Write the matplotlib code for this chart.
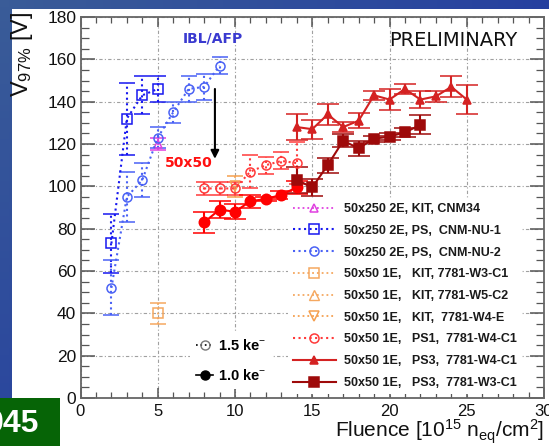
import numpy as np
import matplotlib
matplotlib.use("Agg")
import matplotlib.pyplot as plt
from matplotlib.patches import Rectangle
from matplotlib.lines import Line2D

plt.rcParams['font.family'] = ['Liberation Sans', 'DejaVu Sans']
plt.rcParams['mathtext.fontset'] = 'custom'
plt.rcParams['mathtext.rm'] = 'Liberation Sans'
plt.rcParams['mathtext.it'] = 'Liberation Sans:italic'
plt.rcParams['mathtext.bf'] = 'Liberation Sans:bold'

# ---------------- data ----------------
cnm34_x = [5]
cnm34_y = [120]
cnm34_e = [3]

nu1_x = [2, 3, 4, 5]
nu1_y = [73, 132, 143, 146]
nu1_e = [14, 17, 9, 6]

nu2_x = [2, 3, 4, 5, 6, 7, 8, 9]
nu2_y = [52, 95, 103, 123, 135, 146, 147, 157]
nu2_e = [13, 12, 8, 5, 5, 6, 6, 4]

kit_w3c1_x = [5]
kit_w3c1_y = [40]
kit_w3c1_e = [5]

kit_w5c2_x = []
kit_w5c2_y = []

kit_w4e_x = [10]
kit_w4e_y = [100]
kit_w4e_e = [5]

ps1_x = [8, 9, 10, 11, 12, 13, 14]
ps1_y = [99, 99, 99, 107, 110, 112, 111]
ps1_e = [3, 3, 3, 8, 4, 4, 10]

ps1_1ke_x = [8, 9, 10, 11, 12, 13, 14]
ps1_1ke_y = [83, 89, 88, 93, 94, 96, 99.5]
ps1_1ke_e = [5, 4, 3.5, 3, 1, 2, 3]

ps3_w4c1_x = [14, 15, 16, 17, 18, 19, 20, 21, 22, 23, 24, 25]
ps3_w4c1_y = [128, 127, 134, 128, 131, 143, 141, 146, 141, 142.5, 147, 141]
ps3_w4c1_e = [6, 4.5, 5, 2.5, 3.5, 2, 5, 2.5, 4, 2.5, 5, 7]

ps3_w3c1_x = [14, 15, 16, 17, 18, 19, 20, 21, 22]
ps3_w3c1_y = [103, 99.5, 110, 121.5, 118, 122.5, 123.5, 125.5, 129]
ps3_w3c1_e = [6, 4, 3.5, 3, 3.5, 1.5, 1.5, 2, 4.5]

legend_labels = [
    "50x250 2E, KIT, CNM34",
    "50x250 2E, PS,  CNM-NU-1",
    "50x250 2E, PS,  CNM-NU-2",
    "50x50 1E,   KIT, 7781-W3-C1",
    "50x50 1E,   KIT, 7781-W5-C2",
    "50x50 1E,   KIT,  7781-W4-E",
    "50x50 1E,   PS1,  7781-W4-C1",
    "50x50 1E,   PS3,  7781-W4-C1",
    "50x50 1E,   PS3,  7781-W3-C1",
]
ke_labels = ["1.5 ke$^{-}$", "1.0 ke$^{-}$"]

x_ticks = [0, 5, 10, 15, 20, 25, 30]
y_ticks = [0, 20, 40, 60, 80, 100, 120, 140, 160, 180]

# ---------------- figure ----------------
W, H = 549, 446
fig = plt.figure(figsize=(W / 100, H / 100), dpi=100)

# slide background
bg = fig.add_axes([0, 0, 1, 1])
bg.set_xlim(0, 1)
bg.set_ylim(0, 1)
bg.axis('off')
gx, gy = np.meshgrid(np.linspace(0, 1, 64), np.linspace(0, 1, 64))
t = np.clip(0.55 * (1 - gx) + 0.45 * (1 - gy), 0, 1)
c_top = np.array([0x16, 0x2a, 0xa6]) / 255
c_bot = np.array([0x3a, 0x5c, 0x98]) / 255
img = c_top[None, None, :] * (1 - t[..., None]) + c_bot[None, None, :] * t[..., None]
bg.imshow(img, extent=[0, 1, 0, 1], aspect='auto', origin='upper', zorder=0)
bg.add_patch(Rectangle((12 / W, 0), 1 - 12 / W, 1 - 9 / H, facecolor='white',
                       edgecolor='none', zorder=1))
bg.add_patch(Rectangle((0, 0), 60 / W, 48 / H, facecolor='#066406',
                       edgecolor='none', zorder=2))
bg.text(39 / W, 22 / H, "045", color='white', fontsize=23, fontweight='bold',
        ha='right', va='center', zorder=3)

ax = fig.add_axes([80.5 / W, 1 - 398 / H, (544 - 80.5) / W, (398 - 17) / H])
ax.set_facecolor('none')
ax.set_xlim(0, 30)
ax.set_ylim(0, 180)

def series(x, y, e, color, marker, ls, mfc='none', ms=6.5, lw=1.3, cap=6, z=3):
    c = ax.errorbar(x, y, yerr=e, color=color, marker=marker, ls=ls, lw=lw,
                    mfc=mfc, mec=color, ms=ms, mew=1.1, capsize=cap, capthick=1.1,
                    elinewidth=lw, zorder=z)
    if ls != '-':
        for b in c[2]:
            b.set_linestyle(':')
    return c[0]

h_cnm34 = series(cnm34_x, cnm34_y, cnm34_e, '#e040e0', '^', ':', ms=6)
h_nu1 = series(nu1_x, nu1_y, nu1_e, '#1818f0', 's', ':', ms=6.5, lw=1.5)
h_nu2 = series(nu2_x, nu2_y, nu2_e, '#4a62f5', 'o', ':', ms=6.5, lw=1.5)
h_w3 = series(kit_w3c1_x, kit_w3c1_y, kit_w3c1_e, '#f5a860', 's', ':', ms=6.5)
h_w5, = ax.plot(kit_w5c2_x, kit_w5c2_y, color='#f5a860', marker='^', ls=':',
                mfc='none', ms=6.5, lw=1.3)
h_w4e = series(kit_w4e_x, kit_w4e_y, kit_w4e_e, '#f5a050', 'v', ':', ms=7)
h_ps1 = series(ps1_x, ps1_y, ps1_e, '#ff3a3a', 'o', ':', ms=6.5, lw=1.5)
series(ps1_1ke_x, ps1_1ke_y, ps1_1ke_e, '#ff0000', 'o', '-', mfc='#ff0000',
       ms=7.5, lw=1.5, cap=8)
h_ps3a = series(ps3_w4c1_x, ps3_w4c1_y, ps3_w4c1_e, '#d42222', '^', '-',
                mfc='#d42222', ms=6, lw=1.5, cap=8)
h_ps3b = series(ps3_w3c1_x, ps3_w3c1_y, ps3_w3c1_e, '#9e0a0a', 's', '-',
                mfc='#9e0a0a', ms=7, lw=1.5, cap=8)

# grid / ticks
ax.set_xticks(x_ticks)
ax.set_yticks(y_ticks)
ax.set_xticks(np.arange(0, 31, 1), minor=True)
ax.set_yticks(np.arange(0, 181, 5), minor=True)
ax.grid(True, which='major', color='#a0a0a0', lw=0.8, ls=(0, (3, 2, 1, 2)), zorder=0)
ax.tick_params(which='both', direction='in', top=True, right=True,
               color='#555555', labelcolor='#111111')
ax.tick_params(axis='y', which='major', length=10, width=1.1, pad=3, labelsize=12.5)
ax.tick_params(axis='y', which='minor', length=5.5, width=0.9)
ax.tick_params(axis='x', which='major', length=7, width=1.1, pad=4, labelsize=12)
ax.tick_params(axis='x', which='minor', length=4, width=0.9)
for s in ax.spines.values():
    s.set_color('#666666')
    s.set_linewidth(1.3)

# annotations
ax.annotate('', xy=(8.7, 113), xytext=(8.7, 146),
            arrowprops=dict(arrowstyle='-|>', color='black', lw=1.5,
                            mutation_scale=12, shrinkA=0, shrinkB=0))
ax.text(8.6, 170, "IBL/AFP", family='DejaVu Sans', fontweight='bold',
        fontsize=10, color='#3a3ad0', ha='center', va='center')
ax.text(7.0, 111, "50x50", family='DejaVu Sans', fontweight='bold',
        fontsize=10, color='#ff1010', ha='center', va='center')
ax.text(24.1, 169, "PRELIMINARY", family='DejaVu Sans', fontsize=14,
        color='#111111', ha='center', va='center')

# main legend
handles = [h_cnm34, h_nu1, h_nu2, h_w3, h_w5, h_w4e, h_ps1, h_ps3a, h_ps3b]
leg = ax.legend(handles, legend_labels, loc='upper left',
                bbox_to_anchor=(288 / W, 1 - 198 / H), bbox_transform=fig.transFigure,
                borderaxespad=0, borderpad=0.4, labelspacing=0.78,
                handlelength=3.4, handletextpad=0.65, numpoints=1,
                prop={'family': 'Liberation Sans', 'weight': 'bold', 'size': 9},
                frameon=True, fancybox=False, facecolor='white', edgecolor='none',
                framealpha=1)
for tx in leg.get_texts():
    tx.set_color('#1a1a1a')
leg.set_zorder(5)
ax.add_artist(leg)

# threshold legend
ke_handles = [
    Line2D([0], [0], color='black', ls=':', lw=1.2, marker='o', mfc='none',
           mec='#777777', ms=6.5),
    Line2D([0], [0], color='black', ls='-', lw=1.2, marker='o', mfc='black',
           mec='black', ms=6.5),
]
leg2 = ax.legend(ke_handles, ke_labels, loc='upper left',
                 bbox_to_anchor=(190 / W, 1 - 332 / H), bbox_transform=fig.transFigure,
                 borderaxespad=0, borderpad=0.4, labelspacing=1.05,
                 handlelength=1.2, handletextpad=0.35, numpoints=1,
                 prop={'family': 'Liberation Sans', 'weight': 'bold', 'size': 10.5},
                 frameon=True, fancybox=False, facecolor='white', edgecolor='none',
                 framealpha=1)
leg2.set_zorder(5)

# axis titles
fig.text(22 / W, 1 - 12 / H, r"V$_{\mathrm{97\%}}$ [V]", rotation=90,
         ha='center', va='top', fontsize=17, color='#111111')
fig.text(544 / W, 1 - 437 / H,
         r"Fluence [10$^{\mathrm{15}}$ n$_{\mathrm{eq}}$/cm$^{\mathrm{2}}$]",
         ha='right', va='baseline', fontsize=15, color='#111111')

fig.savefig("out.png", dpi=100)
